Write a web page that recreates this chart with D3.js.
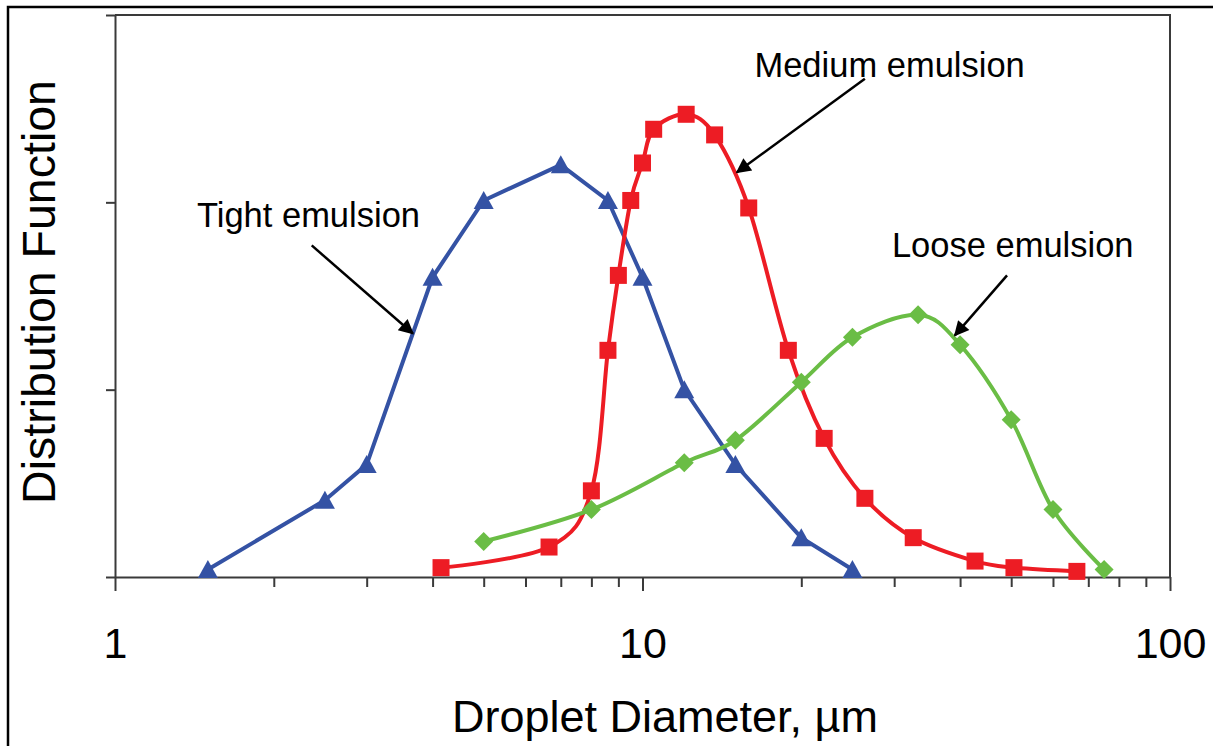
<!DOCTYPE html>
<html lang="en">
<head>
<meta charset="UTF-8">
<title>Droplet size distribution</title>
<script src="https://d3js.org/d3.v7.min.js"></script>
<style>
  body { margin: 0; background: #fff; }
  text { font-family: "Liberation Sans", Arial, sans-serif; fill: #000; }
  .axis path, .axis line { stroke: #3a3a3a; stroke-width: 2; }
</style>
</head>
<body>
<svg width="1213" height="746"></svg>
<script>
// data
const tightX = [1.5, 2.5, 3, 4, 5, 7, 8.6, 10, 12, 15, 20, 25];
const tightY = [0.04, 0.41, 0.60, 1.60, 2.01, 2.20, 2.01, 1.60, 1.00, 0.60, 0.21, 0.04];

const mediumX = [4.15, 6.65, 8, 8.6, 9, 9.5, 10, 10.5, 12.1, 13.7, 15.9, 18.9, 22.1, 26.4, 32.6, 42.7, 50.6, 66.6];
const mediumY = [0.05, 0.16, 0.46, 1.21, 1.61, 2.01, 2.21, 2.39, 2.47, 2.36, 1.97, 1.21, 0.74, 0.42, 0.21, 0.085, 0.05, 0.03];

const looseX = [5, 8, 12, 15, 20, 25, 33.3, 40, 50, 60, 75];
const looseY = [0.19, 0.36, 0.61, 0.73, 1.04, 1.28, 1.40, 1.24, 0.84, 0.36, 0.04];

const xMajor = [1, 10, 100];
const xMinor = [2, 3, 4, 5, 6, 7, 8, 9, 20, 30, 40, 50, 60, 70, 80, 90];
const yTicks = [0, 1, 2, 3];

// annotation text and arrow ends, in data units
const notes = [
  {label: "Tight emulsion",  tx: 1.43, ty: 1.87, from: [2.36, 1.77], to: [3.67, 1.30]},
  {label: "Medium emulsion", tx: 16.3, ty: 2.67, from: [26.4, 2.66], to: [15.1, 2.16]},
  {label: "Loose emulsion",  tx: 29.7, ty: 1.71, from: [49.1, 1.61], to: [39.1, 1.29]}
];

const svg = d3.select("svg"),
      margin = {top: 15, right: 43, bottom: 169, left: 115},
      width = +svg.attr("width") - margin.left - margin.right,
      height = +svg.attr("height") - margin.top - margin.bottom;

// outer frame
svg.append("path")
   .attr("d", "M8,746V7H1213")
   .attr("fill", "none").attr("stroke", "#000").attr("stroke-width", 2.5);

svg.append("defs").append("marker")
   .attr("id", "head")
   .attr("viewBox", "0 0 10 10")
   .attr("refX", 9).attr("refY", 5)
   .attr("markerWidth", 7).attr("markerHeight", 6)
   .attr("markerUnits", "strokeWidth")
   .attr("orient", "auto")
   .append("path").attr("d", "M0,0L10,5L0,10Z").attr("fill", "#000");

const g = svg.append("g").attr("transform", `translate(${margin.left},${margin.top})`);

const x = d3.scaleLog().domain([1, 100]).range([0, width]);
const y = d3.scaleLinear().domain([0, 3]).range([height, 0]);

// top and right border of the plot area
g.append("path")
 .attr("d", `M0,0H${width}V${height}`)
 .attr("fill", "none").attr("stroke", "#3a3a3a").attr("stroke-width", 2);

g.append("g")
 .attr("class", "axis")
 .attr("transform", `translate(0,${height})`)
 .call(d3.axisBottom(x).tickValues(xMinor).tickSize(10).tickFormat(""))
 .call(a => a.select(".domain").remove());

g.append("g")
 .attr("class", "axis")
 .attr("transform", `translate(0,${height})`)
 .call(d3.axisBottom(x).tickValues(xMajor).tickSizeInner(14).tickSizeOuter(0)
        .tickPadding(36).tickFormat(d3.format("d")))
 .call(a => a.selectAll("text").attr("font-size", 43));

g.append("g")
 .attr("class", "axis")
 .call(d3.axisLeft(y).tickValues(yTicks).tickSizeInner(9).tickSizeOuter(0).tickFormat(""));

svg.append("text")
   .attr("x", 665).attr("y", 732)
   .attr("text-anchor", "middle")
   .attr("font-size", 45)
   .text("Droplet Diameter, \u00b5m");

svg.append("text")
   .attr("transform", "translate(55,292) rotate(-90)")
   .attr("text-anchor", "middle")
   .attr("font-size", 46.5)
   .text("Distribution Function");

const series = [
  {xs: tightX,  ys: tightY,  color: "#3452a4", shape: "tri",  curve: d3.curveLinear},
  {xs: mediumX, ys: mediumY, color: "#ed1c24", shape: "sq",   curve: d3.curveCardinal.tension(0)},
  {xs: looseX,  ys: looseY,  color: "#6abd45", shape: "dia",  curve: d3.curveCardinal.tension(0)}
];

const shapes = {
  tri: "M0,-9.5L10,8.5L-10,8.5Z",
  sq:  "M-8.5,-8.5H8.5V8.5H-8.5Z",
  dia: "M0,-9.5L9.5,0L0,9.5L-9.5,0Z"
};

series.forEach(s => {
  const pts = s.xs.map((d, i) => [d, s.ys[i]]);
  g.append("path")
   .datum(pts)
   .attr("fill", "none")
   .attr("stroke", s.color)
   .attr("stroke-width", 4)
   .attr("d", d3.line().x(d => x(d[0])).y(d => y(d[1])).curve(s.curve));
  g.selectAll(null)
   .data(pts)
   .enter().append("path")
   .attr("transform", d => `translate(${x(d[0])},${y(d[1])})`)
   .attr("d", shapes[s.shape])
   .attr("fill", s.color);
});

notes.forEach(n => {
  g.append("text")
   .attr("x", x(n.tx)).attr("y", y(n.ty))
   .attr("font-size", 34.5)
   .text(n.label);
  g.append("line")
   .attr("x1", x(n.from[0])).attr("y1", y(n.from[1]))
   .attr("x2", x(n.to[0])).attr("y2", y(n.to[1]))
   .attr("stroke", "#000").attr("stroke-width", 2.5)
   .attr("marker-end", "url(#head)");
});
</script>
</body>
</html>
